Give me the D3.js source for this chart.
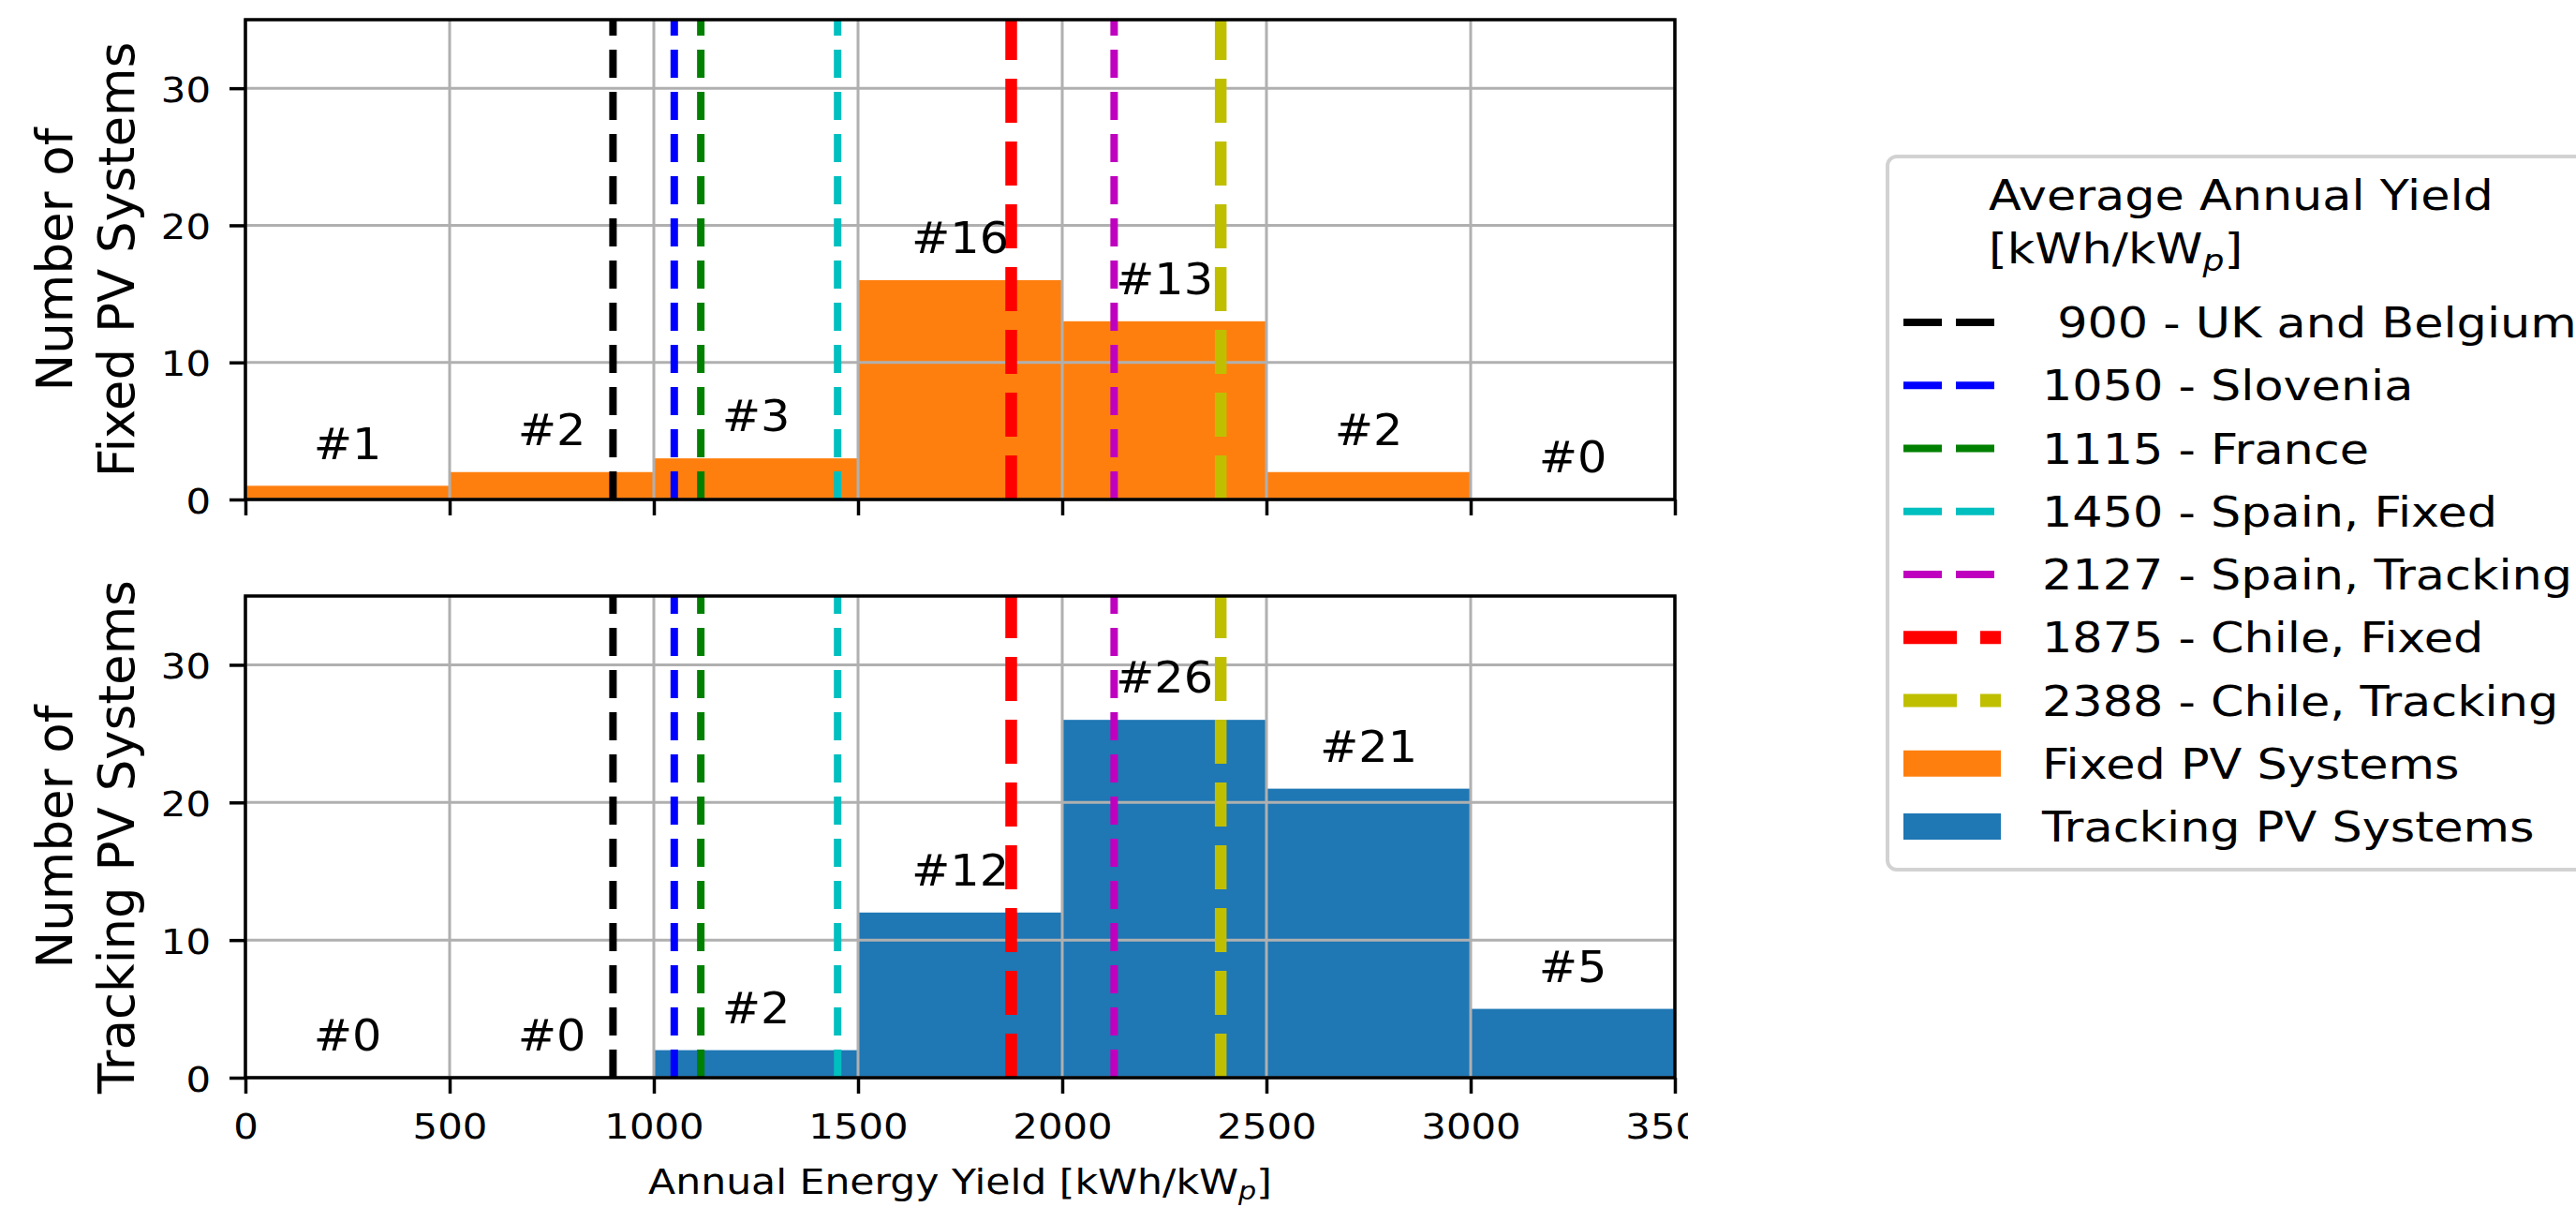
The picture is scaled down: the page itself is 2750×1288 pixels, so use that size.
<!DOCTYPE html>
<html>
<head>
<meta charset="utf-8">
<script src="https://cdn.jsdelivr.net/npm/d3@7"></script>
<style>
  html, body { margin: 0; padding: 0; background: #fff; }
  svg { display: block; }
  text { font-family: "DejaVu Sans", sans-serif; fill: #000; }
</style>
</head>
<body>
<svg id="chart" width="2750" height="1288"></svg>
<script>
// Histogram bins of annual energy yield [kWh/kWp]
const binEdges = [0, 500, 1000, 1500, 2000, 2500, 3000, 3500];
const fixedCounts = [1, 2, 3, 16, 13, 2, 0];
const trackingCounts = [0, 0, 2, 12, 26, 21, 5];

// Axis ticks
const xTickValues = [0, 500, 1000, 1500, 2000, 2500, 3000, 3500];
const yTickValues = [0, 10, 20, 30];

// Reference average yields per country
const refYields = [900, 1050, 1115, 1450, 2127, 1875, 2388];
const refNames = ["UK and Belgium", "Slovenia", "France", "Spain, Fixed",
                  "Spain, Tracking", "Chile, Fixed", "Chile, Tracking"];

// Styles
const refColors = ["#000000", "#0000ff", "#008000", "#00bfbf", "#bf00bf", "#ff0000", "#bfbf00"];
const refThick = [false, false, false, false, false, true, true];
const fixedColor = "#ff7f0e";
const trackingColor = "#1f77b4";
const gridColor = "#b0b0b0";
const SX = 1.1;              // horizontal glyph stretch of the text
const LEG_SX = 1.13;
const THIN = { w: 8, dash: "30,15" };
const THICK = { w: 12.5, dash: "47,20" };

const svg = d3.select("#chart");
svg.append("rect").attr("width", 2750).attr("height", 1288).attr("fill", "#fff");

const x = d3.scaleLinear().domain([0, 3500]).range([262, 1788]);

function label(g, px, py, str, size, anchor, sx) {
  return g.append("text")
    .attr("transform", `translate(${px},${py}) scale(${sx === undefined ? SX : sx},1)`)
    .attr("font-size", size)
    .attr("text-anchor", anchor || "start")
    .text(str);
}

// Tick labels at the right end are cut off at the figure edge
svg.append("clipPath").attr("id", "tickclip")
  .append("rect").attr("x", 0).attr("y", 0).attr("width", 1802).attr("height", 1288);

const panels = [
  { counts: fixedCounts, color: fixedColor, top: 21, bottom: 533,
    ylabel: ["Number of", "Fixed PV Systems"], xLabels: false },
  { counts: trackingCounts, color: trackingColor, top: 636, bottom: 1150,
    ylabel: ["Number of", "Tracking PV Systems"], xLabels: true }
];

panels.forEach(p => {
  const y = d3.scaleLinear().domain([0, 35]).range([p.bottom, p.top]);
  const g = svg.append("g");

  // Bars
  g.append("g").selectAll("rect").data(p.counts).join("rect")
    .attr("x", (d, i) => x(binEdges[i]))
    .attr("width", (d, i) => x(binEdges[i + 1]) - x(binEdges[i]))
    .attr("y", d => y(d))
    .attr("height", d => y(0) - y(d))
    .attr("fill", p.color);

  // Grid (drawn over the bars)
  const grid = g.append("g").attr("stroke", gridColor).attr("stroke-width", 3);
  grid.selectAll("line.gx").data(xTickValues).join("line").attr("class", "gx")
    .attr("x1", d => x(d)).attr("x2", d => x(d))
    .attr("y1", y(0)).attr("y2", y(35));
  grid.selectAll("line.gy").data(yTickValues).join("line").attr("class", "gy")
    .attr("x1", x(0)).attr("x2", x(3500))
    .attr("y1", d => y(d)).attr("y2", d => y(d));

  // Reference yield lines, dashes starting at the bottom
  g.append("g").selectAll("path").data(refYields).join("path")
    .attr("d", d => `M${x(d)},${y(0)}L${x(d)},${y(35)}`)
    .attr("fill", "none")
    .attr("stroke", (d, i) => refColors[i])
    .attr("stroke-width", (d, i) => (refThick[i] ? THICK : THIN).w)
    .attr("stroke-dasharray", (d, i) => (refThick[i] ? THICK : THIN).dash);

  // Count annotations above each bin
  const ann = g.append("g");
  p.counts.forEach((c, i) => {
    const cx = x((binEdges[i] + binEdges[i + 1]) / 2);
    label(ann, cx, y(c + 1) - 0.3 * 47, "#" + c, 47, "middle", 1.05);
  });

  // Spines
  g.append("rect")
    .attr("x", x(0)).attr("y", y(35))
    .attr("width", x(3500) - x(0)).attr("height", y(0) - y(35))
    .attr("fill", "none").attr("stroke", "#000").attr("stroke-width", 3.5);

  // Y axis
  const ya = g.append("g").attr("transform", `translate(${x(0)},0)`)
    .call(d3.axisLeft(y).tickValues(yTickValues).tickSize(17).tickFormat(d3.format("d")));
  ya.select(".domain").remove();
  ya.selectAll(".tick line").attr("stroke", "#000").attr("stroke-width", 3.5);
  ya.selectAll(".tick text")
    .attr("x", null).attr("dy", null)
    .attr("transform", `translate(-37,14) scale(${SX},1)`)
    .attr("font-size", 38).attr("font-family", "DejaVu Sans").attr("fill", "#000");

  // X axis
  const xa = g.append("g").attr("transform", `translate(0,${y(0)})`)
    .call(d3.axisBottom(x).tickValues(xTickValues).tickSize(17).tickFormat(d3.format("d")));
  xa.select(".domain").remove();
  xa.selectAll(".tick line").attr("stroke", "#000").attr("stroke-width", 3.5);
  if (p.xLabels) {
    xa.attr("clip-path", "url(#tickclip)");
    xa.selectAll(".tick text")
      .attr("y", null).attr("dy", null)
      .attr("transform", `translate(0,65) scale(${SX},1)`)
      .attr("font-size", 38).attr("font-family", "DejaVu Sans").attr("fill", "#000");
  } else {
    xa.selectAll(".tick text").remove();
  }

  // Y axis title, two lines
  const cy = (p.top + p.bottom) / 2;
  p.ylabel.forEach((t, k) => {
    g.append("text")
      .attr("transform", `translate(${77 + 66 * k},${cy}) rotate(-90)`)
      .attr("font-size", 53).attr("text-anchor", "middle")
      .text(t);
  });
});

// X axis title
const xt = label(svg, (x(0) + x(3500)) / 2, 1274, "Annual Energy Yield [kWh/kW", 38, "middle", 1.12);
xt.append("tspan").attr("font-size", 27).attr("font-style", "italic").attr("dy", 6).text("p");
xt.append("tspan").attr("dy", -6).text("]");

// Legend
const lg = svg.append("g");
lg.append("rect")
  .attr("x", 2015).attr("y", 167).attr("width", 800).attr("height", 761)
  .attr("rx", 10).attr("fill", "#fff").attr("fill-opacity", 0.8)
  .attr("stroke", "#d2d2d2").attr("stroke-width", 4);

label(lg, 2123, 224, "Average Annual Yield", 45, "start", LEG_SX);
const lt = label(lg, 2123, 281, "[kWh/kW", 45, "start", LEG_SX);
lt.append("tspan").attr("font-size", 32).attr("font-style", "italic").attr("dy", 8).text("p");
lt.append("tspan").attr("dy", -8).text("]");

const rowY = i => 344 + 67.25 * i;
const hx0 = 2032, hx1 = 2136, tx = 2180;

refYields.forEach((v, i) => {
  const st = refThick[i] ? { w: 14, dash: "57,25" } : { w: 8, dash: "41,15" };
  lg.append("line")
    .attr("x1", hx0).attr("x2", hx1).attr("y1", rowY(i)).attr("y2", rowY(i))
    .attr("stroke", refColors[i]).attr("stroke-width", st.w)
    .attr("stroke-dasharray", st.dash);
  label(lg, tx, rowY(i) + 16, String(v).padStart(4, "\u00a0") + " - " + refNames[i], 45, "start", LEG_SX)
    .style("white-space", "pre");
});

[["Fixed PV Systems", fixedColor], ["Tracking PV Systems", trackingColor]].forEach(([name, col], k) => {
  const i = refYields.length + k;
  lg.append("rect")
    .attr("x", hx0).attr("width", hx1 - hx0)
    .attr("y", rowY(i) - 14).attr("height", 28)
    .attr("fill", col);
  label(lg, tx, rowY(i) + 16, name, 45, "start", LEG_SX);
});
</script>
</body>
</html>
